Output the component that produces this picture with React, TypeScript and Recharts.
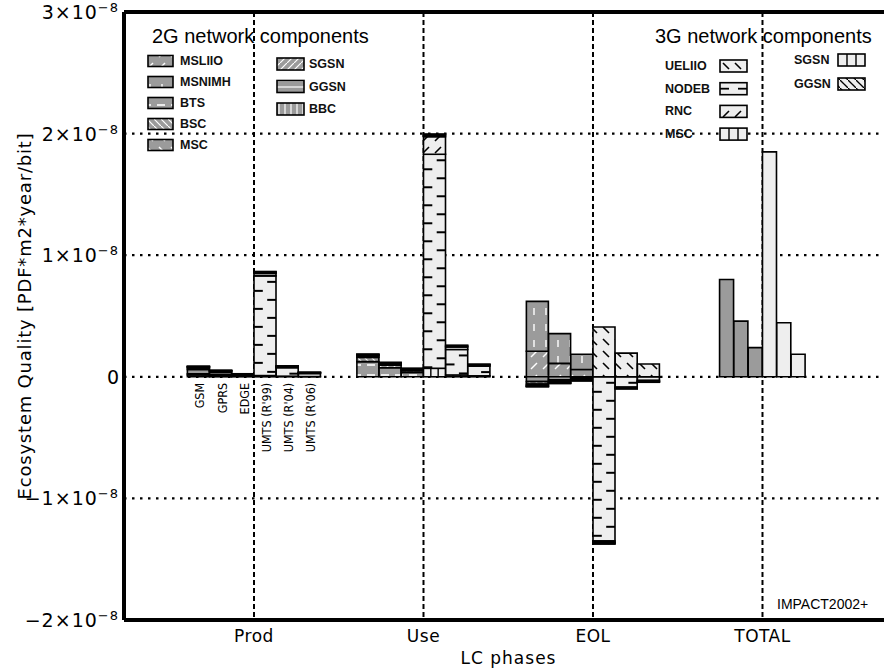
import React from 'react';
import { BarChart, Bar, XAxis, YAxis, CartesianGrid, ReferenceLine, Legend, LabelList, Label, Cell } from 'recharts';

// values are in units of 1e-8 PDF*m2*year/bit
const PHASES = ['Prod', 'Use', 'EOL', 'TOTAL'];
const TECH_2G = ['GSM', 'GPRS', 'EDGE'];
const TECH_3G = ["UMTS (R'99)", "UMTS (R'04)", "UMTS (R'06)"];
const Y_TICKS = [-2, -1, 0, 1, 2, 3];
const X_TICKS = [1, 2, 3, 4];

// 2G components: Prod (GSM, GPRS, EDGE), Use (...), EOL (...)
const MSLIIO = [0.015, 0.01, 0.005, 0, 0, 0, 0.21, 0.11, 0.06];
const MSNIMH = [0.01, 0.006, 0.003, 0, 0, 0, 0.41, 0.245, 0.125];
const BTS = [0.035, 0.02, 0.01, 0.125, 0.075, 0.035, -0.04, -0.025, -0.012];
const BSC = [0.012, 0.008, 0.004, 0.035, 0.02, 0.015, -0.02, -0.015, -0.01];
const MSC_2G = [0.008, 0.005, 0.002, 0.012, 0.01, 0.008, -0.012, -0.008, -0.006];
const SGSN_2G = [0.003, 0.002, 0.001, 0.007, 0.007, 0.006, -0.005, -0.004, -0.003];
const GGSN_2G = [0.002, 0.001, 0, 0.005, 0.004, 0.004, -0.003, -0.002, -0.001];
const BBC = [0.002, 0.001, 0, 0.003, 0.003, 0.002, -0.002, -0.001, -0.001];

// 3G components: Prod (R'99, R'04, R'06), Use (...), EOL (...)
const MSC_3G = [0.01, 0.005, 0.002, 0.07, 0.015, 0.008, 0, 0, 0];
const NODEB = [0.82, 0.07, 0.025, 1.76, 0.21, 0.08, -1.35, -0.085, -0.03];
const RNC = [0.02, 0.008, 0.005, 0.145, 0.02, 0.01, -0.012, -0.008, -0.008];
const UELIIO = [0.008, 0.003, 0.003, 0, 0, 0, 0.41, 0.195, 0.105];
const SGSN_3G = [0.004, 0.002, 0.001, 0.012, 0.008, 0.003, -0.008, -0.004, -0.004];
const GGSN_3G = [0.004, 0.002, 0.001, 0.01, 0.007, 0.003, -0.006, -0.003, -0.003];

// TOTAL: GSM, GPRS, EDGE, R'99, R'04, R'06
const TOTAL = [0.8, 0.458, 0.24, 1.85, 0.444, 0.186];

const COMPS_2G = [
  { key: 'g2_MSLIIO', name: 'MSLIIO', values: MSLIIO },
  { key: 'g2_MSNIMH', name: 'MSNIMH', values: MSNIMH },
  { key: 'g2_BTS', name: 'BTS', values: BTS },
  { key: 'g2_BSC', name: 'BSC', values: BSC },
  { key: 'g2_MSC', name: 'MSC', values: MSC_2G },
  { key: 'g2_SGSN', name: 'SGSN', values: SGSN_2G },
  { key: 'g2_GGSN', name: 'GGSN', values: GGSN_2G },
  { key: 'g2_BBC', name: 'BBC', values: BBC },
];
const COMPS_3G = [
  { key: 'g3_MSC', name: 'MSC', values: MSC_3G },
  { key: 'g3_NODEB', name: 'NODEB', values: NODEB },
  { key: 'g3_RNC', name: 'RNC', values: RNC },
  { key: 'g3_UELIIO', name: 'UELIIO', values: UELIIO },
  { key: 'g3_SGSN', name: 'SGSN', values: SGSN_3G },
  { key: 'g3_GGSN', name: 'GGSN', values: GGSN_3G },
];

const GREY = '#9b9b9b';
const LIGHT = '#eeeeee';
const W = 893;
const H = 668;
const X_MIN = 0.233;
const X_MAX = 4.77;
const STEP = 0.131;
const STEP_T = 0.0844;
const FONT = '"DejaVu Sans", sans-serif';
const COND = '"DejaVu Sans Condensed", "DejaVu Sans", sans-serif';
const SANS = '"Liberation Sans", Arial, sans-serif';

const PATTERN: Record<string, string> = {
  g2_MSLIIO: 'p-msliio', g2_MSNIMH: 'p-msnimh', g2_BTS: 'p-bts', g2_BSC: 'p-bsc',
  g2_MSC: 'p-msc2', g2_SGSN: 'p-sgsn2', g2_GGSN: 'p-ggsn2', g2_BBC: 'p-bbc',
  g3_UELIIO: 'p-uelii', g3_RNC: 'p-rnc', g3_GGSN: 'p-ggsn3',
};
const CUSTOM: Record<string, 'nodeb' | 'thirds'> = { g3_NODEB: 'nodeb', g3_MSC: 'thirds', g3_SGSN: 'thirds' };
// the first segment of each generation carries the technology names under Prod
const LABEL_KEY: Record<string, string> = { g2_MSLIIO: 'tech2G', g3_MSC: 'tech3G' };

const rows: any[] = [];
[0, 1, 2].forEach((p) => {
  TECH_2G.forEach((t, i) => {
    const r: any = { x: p + 1 + (i - 2.5) * STEP, tech2G: p === 0 ? t : '', tech3G: '' };
    COMPS_2G.forEach((c) => { r[c.key] = c.values[p * 3 + i]; });
    COMPS_3G.forEach((c) => { r[c.key] = 0; });
    rows.push(r);
  });
  TECH_3G.forEach((t, i) => {
    const r: any = { x: p + 1 + (i + 0.5) * STEP, tech2G: '', tech3G: p === 0 ? t : '' };
    COMPS_2G.forEach((c) => { r[c.key] = 0; });
    COMPS_3G.forEach((c) => { r[c.key] = c.values[p * 3 + i]; });
    rows.push(r);
  });
});
const totalRows = TOTAL.map((v, i) => ({ x: 4 + (i - 2.5) * STEP_T, value: v, gen: i < 3 ? '2G' : '3G' }));

function segMarks(kind: string, x: number, top: number, w: number, h: number, legend = false) {
  const items: any[] = [<rect key="r" x={x} y={top} width={w} height={h} fill={LIGHT} stroke="#000" strokeWidth={1.6} />];
  if (kind === 'nodeb') {
    const t = Math.min(9, w * 0.4);
    if (legend) {
      items.push(<line key="a" x1={x} x2={x + t} y1={top + h / 2} y2={top + h / 2} stroke="#000" strokeWidth={1.8} />);
      items.push(<line key="b" x1={x + w - t} x2={x + w} y1={top + h / 2} y2={top + h / 2} stroke="#000" strokeWidth={1.8} />);
    } else {
      for (let k = 0, yy = top + 6; yy < top + h - 1; k++, yy += 9) {
        const left = k % 2 === 1;
        items.push(<line key={k} x1={left ? x : x + w - t} x2={left ? x + t : x + w} y1={yy} y2={yy} stroke="#000" strokeWidth={2} />);
      }
    }
  } else {
    items.push(<line key="a" x1={x + w / 3} x2={x + w / 3} y1={top} y2={top + h} stroke="#000" strokeWidth={1.4} />);
    items.push(<line key="b" x1={x + (2 * w) / 3} x2={x + (2 * w) / 3} y1={top} y2={top + h} stroke="#000" strokeWidth={1.4} />);
  }
  return <g>{items}</g>;
}

const makeShape = (kind: string) => (props: any) => {
  const { x, y, width, height } = props;
  if (!width || !height || Math.abs(height) < 0.01) return <g />;
  return segMarks(kind, x, Math.min(y, y + height), width, Math.abs(height));
};

function swatch(key: string, x: number, y: number, w: number, h: number) {
  if (CUSTOM[key]) return segMarks(CUSTOM[key], x, y, w, h, true);
  return <rect x={x} y={y} width={w} height={h} fill={`url(#${PATTERN[key]})`} stroke="#000" strokeWidth={1.6} />;
}

const YTick = (props: any) => {
  const { x, y, payload } = props;
  const v = payload.value;
  if (v === 0) {
    return <text x={x} y={y} dy={7} textAnchor="end" fontSize={19} fontFamily={FONT} fill="#000">0</text>;
  }
  const m = v < 0 ? `\u2212${-v}` : `${v}`;
  return (
    <text x={x} y={y} dy={7} textAnchor="end" fontSize={19} fontFamily={FONT} fill="#000" letterSpacing={1}>
      {m}×10<tspan dy={-7} fontSize={13}>{'\u22128'}</tspan>
    </text>
  );
};

const XTick = (props: any) => {
  const { x, y, payload } = props;
  return (
    <text x={x} y={y + 14} textAnchor="middle" fontSize={17} letterSpacing={0.5} fontFamily={FONT} fill="#000">
      {PHASES[payload.value - 1]}
    </text>
  );
};

const YTitle = (props: any) => {
  const vb = props.viewBox;
  return (
    <text transform={`translate(${vb.x + 24},${vb.y + vb.height / 2}) rotate(-90)`} textAnchor="middle" dominantBaseline="central"
      fontSize={18} letterSpacing={0.8} fontFamily={FONT} fill="#000">
      Ecosystem Quality [PDF*m2*year/bit]
    </text>
  );
};

const XTitle = (props: any) => {
  const vb = props.viewBox;
  return (
    <text x={vb.x + vb.width / 2} y={vb.y + 38} textAnchor="middle" dominantBaseline="central" fontSize={17} letterSpacing={1} fontFamily={FONT} fill="#000">
      LC phases
    </text>
  );
};

const TechLabel = (props: any) => {
  const vb = props.viewBox || props;
  if (!props.value) return null;
  const cx = vb.x + vb.width / 2 + 6;
  const ty = Math.max(vb.y, vb.y + vb.height) + 6;
  return (
    <text transform={`translate(${cx},${ty}) rotate(-90)`} textAnchor="end" fontSize={12.5} fontFamily={COND} fill="#000">
      {props.value}
    </text>
  );
};

const LEG_2G_A = ['g2_MSLIIO', 'g2_MSNIMH', 'g2_BTS', 'g2_BSC', 'g2_MSC'];
const LEG_2G_B = ['g2_SGSN', 'g2_GGSN', 'g2_BBC'];
const LEG_3G_A = ['g3_UELIIO', 'g3_NODEB', 'g3_RNC', 'g3_MSC'];
const LEG_3G_B = ['g3_SGSN', 'g3_GGSN'];
const nameOf = (key: string) => key.split('_')[1];

const LegendBox = () => {
  const lab = { fontSize: 12.5, fontWeight: 700, fontFamily: SANS, fill: '#111', dominantBaseline: 'central' as const };
  return (
    <svg width={884} height={668} style={{ position: 'absolute', left: 0, top: 0, overflow: 'visible', pointerEvents: 'none' }}>
      <text x={152} y={43} fontSize={20} fontFamily={SANS} fill="#000">2G network components</text>
      {LEG_2G_A.map((k, i) => (
        <g key={k}>
          {swatch(k, 148, 61 + i * 21 - 5.5, 25, 11)}
          <text x={180} y={61 + i * 21} {...lab}>{nameOf(k)}</text>
        </g>
      ))}
      {LEG_2G_B.map((k, i) => (
        <g key={k}>
          {swatch(k, 277, 64 + i * 22.5 - 6, 27, 12)}
          <text x={309} y={64 + i * 22.5} {...lab}>{nameOf(k)}</text>
        </g>
      ))}
      <text x={655} y={43} fontSize={20} fontFamily={SANS} fill="#000">3G network components</text>
      {LEG_3G_A.map((k, i) => (
        <g key={k}>
          <text x={665} y={66 + i * 22.7} {...lab}>{nameOf(k)}</text>
          {swatch(k, 720, 66 + i * 22.7 - 6, 27, 12)}
        </g>
      ))}
      {LEG_3G_B.map((k, i) => (
        <g key={k}>
          <text x={794} y={60 + i * 24} {...lab}>{nameOf(k)}</text>
          {swatch(k, 838, 60 + i * 24 - 6, 27, 12)}
        </g>
      ))}
      <text x={777} y={604} fontSize={14} fontFamily={SANS} fill="#000" dominantBaseline="central">IMPACT2002+</text>
    </svg>
  );
};

export default function App() {
  return (
    <div style={{ position: 'absolute', left: 0, top: 0, width: 884, height: 668, overflow: 'hidden', background: '#fff' }}>
      <div style={{ position: 'absolute', left: 0, top: 0 }}>
        <BarChart width={W} height={H} data={rows} margin={{ top: 12, right: 0, left: 0, bottom: 0 }} stackOffset="sign" barSize={22} barGap={0}>
          <defs>
            <pattern id="p-msliio" width="12" height="12" patternUnits="userSpaceOnUse">
              <rect width="12" height="12" fill={GREY} />
              <line x1="3" y1="9" x2="9" y2="3" stroke="#fff" strokeWidth="1.4" />
            </pattern>
            <pattern id="p-msnimh" width="12" height="16" patternUnits="userSpaceOnUse">
              <rect width="12" height="16" fill={GREY} />
              <line x1="6" y1="4" x2="6" y2="11" stroke="#fff" strokeWidth="1.4" />
            </pattern>
            <pattern id="p-bts" width="14" height="10" patternUnits="userSpaceOnUse">
              <rect width="14" height="10" fill={GREY} />
              <line x1="3" y1="5" x2="11" y2="5" stroke="#fff" strokeWidth="1.6" />
            </pattern>
            <pattern id="p-bsc" width="7" height="7" patternUnits="userSpaceOnUse">
              <rect width="7" height="7" fill={GREY} />
              <line x1="0" y1="0" x2="7" y2="7" stroke="#fff" strokeWidth="1.2" />
            </pattern>
            <pattern id="p-msc2" width="12" height="12" patternUnits="userSpaceOnUse">
              <rect width="12" height="12" fill={GREY} />
              <line x1="3" y1="3" x2="9" y2="9" stroke="#fff" strokeWidth="1.4" />
            </pattern>
            <pattern id="p-sgsn2" width="7" height="7" patternUnits="userSpaceOnUse">
              <rect width="7" height="7" fill={GREY} />
              <line x1="0" y1="7" x2="7" y2="0" stroke="#fff" strokeWidth="1.2" />
            </pattern>
            <pattern id="p-ggsn2" width="10" height="6" patternUnits="userSpaceOnUse">
              <rect width="10" height="6" fill={GREY} />
              <line x1="0" y1="3" x2="10" y2="3" stroke="#fff" strokeWidth="1.2" />
            </pattern>
            <pattern id="p-bbc" width="6" height="10" patternUnits="userSpaceOnUse">
              <rect width="6" height="10" fill={GREY} />
              <line x1="3" y1="0" x2="3" y2="10" stroke="#fff" strokeWidth="1.2" />
            </pattern>
            <pattern id="p-uelii" width="12" height="12" patternUnits="userSpaceOnUse">
              <rect width="12" height="12" fill={LIGHT} />
              <line x1="3" y1="3" x2="9" y2="9" stroke="#000" strokeWidth="1.6" />
            </pattern>
            <pattern id="p-rnc" width="12" height="12" patternUnits="userSpaceOnUse">
              <rect width="12" height="12" fill={LIGHT} />
              <line x1="3" y1="9" x2="9" y2="3" stroke="#000" strokeWidth="1.6" />
            </pattern>
            <pattern id="p-ggsn3" width="8" height="8" patternUnits="userSpaceOnUse">
              <rect width="8" height="8" fill={LIGHT} />
              <line x1="0" y1="0" x2="8" y2="8" stroke="#000" strokeWidth="1.3" />
            </pattern>
          </defs>
          <CartesianGrid horizontal={false} stroke="#000" strokeWidth={2} strokeDasharray="5 3" />
          <CartesianGrid vertical={false} stroke="#000" strokeWidth={2.2} strokeDasharray="2.5 5.5" />
          <XAxis dataKey="x" type="number" domain={[X_MIN, X_MAX]} ticks={X_TICKS} interval={0} allowDataOverflow
            tick={<XTick />} tickLine={false} axisLine={{ stroke: '#000', strokeWidth: 4 }} height={48}>
            <Label content={XTitle} />
          </XAxis>
          <YAxis type="number" domain={[-2, 3]} ticks={Y_TICKS} interval={0} allowDataOverflow width={124}
            tick={<YTick />} tickLine={false} tickSize={3} tickMargin={2} axisLine={{ stroke: '#000', strokeWidth: 4 }}>
            <Label content={YTitle} />
          </YAxis>
          <ReferenceLine y={3} stroke="#000" strokeWidth={4} />
          {COMPS_2G.map((c) => (
            <Bar key={c.key} dataKey={c.key} name={c.name} stackId="s" fill={`url(#${PATTERN[c.key]})`}
              stroke="#000" strokeWidth={1.6} barSize={22} isAnimationActive={false}>
              {LABEL_KEY[c.key] && <LabelList dataKey={LABEL_KEY[c.key]} content={TechLabel} />}
            </Bar>
          ))}
          {COMPS_3G.map((c) => (
            <Bar key={c.key} dataKey={c.key} name={c.name} stackId="s"
              fill={PATTERN[c.key] ? `url(#${PATTERN[c.key]})` : LIGHT}
              shape={CUSTOM[c.key] ? makeShape(CUSTOM[c.key]) : undefined}
              stroke="#000" strokeWidth={1.6} barSize={22} isAnimationActive={false}>
              {LABEL_KEY[c.key] && <LabelList dataKey={LABEL_KEY[c.key]} content={TechLabel} />}
            </Bar>
          ))}
          <Legend content={LegendBox} layout="vertical" align="center" verticalAlign="middle"
            wrapperStyle={{ left: 0, top: 0, width: 0, height: 0, overflow: 'visible' }} />
        </BarChart>
      </div>
      <div style={{ position: 'absolute', left: 0, top: 0 }}>
        <BarChart width={W} height={H} data={totalRows} margin={{ top: 12, right: 0, left: 124, bottom: 48 }} barSize={14}>
          <XAxis dataKey="x" type="number" domain={[X_MIN, X_MAX]} hide allowDataOverflow />
          <YAxis type="number" domain={[-2, 3]} hide allowDataOverflow />
          <Bar dataKey="value" stroke="#000" strokeWidth={1.6} isAnimationActive={false}>
            {totalRows.map((r, i) => (
              <Cell key={i} fill={r.gen === '2G' ? GREY : LIGHT} />
            ))}
          </Bar>
        </BarChart>
      </div>
    </div>
  );
}
